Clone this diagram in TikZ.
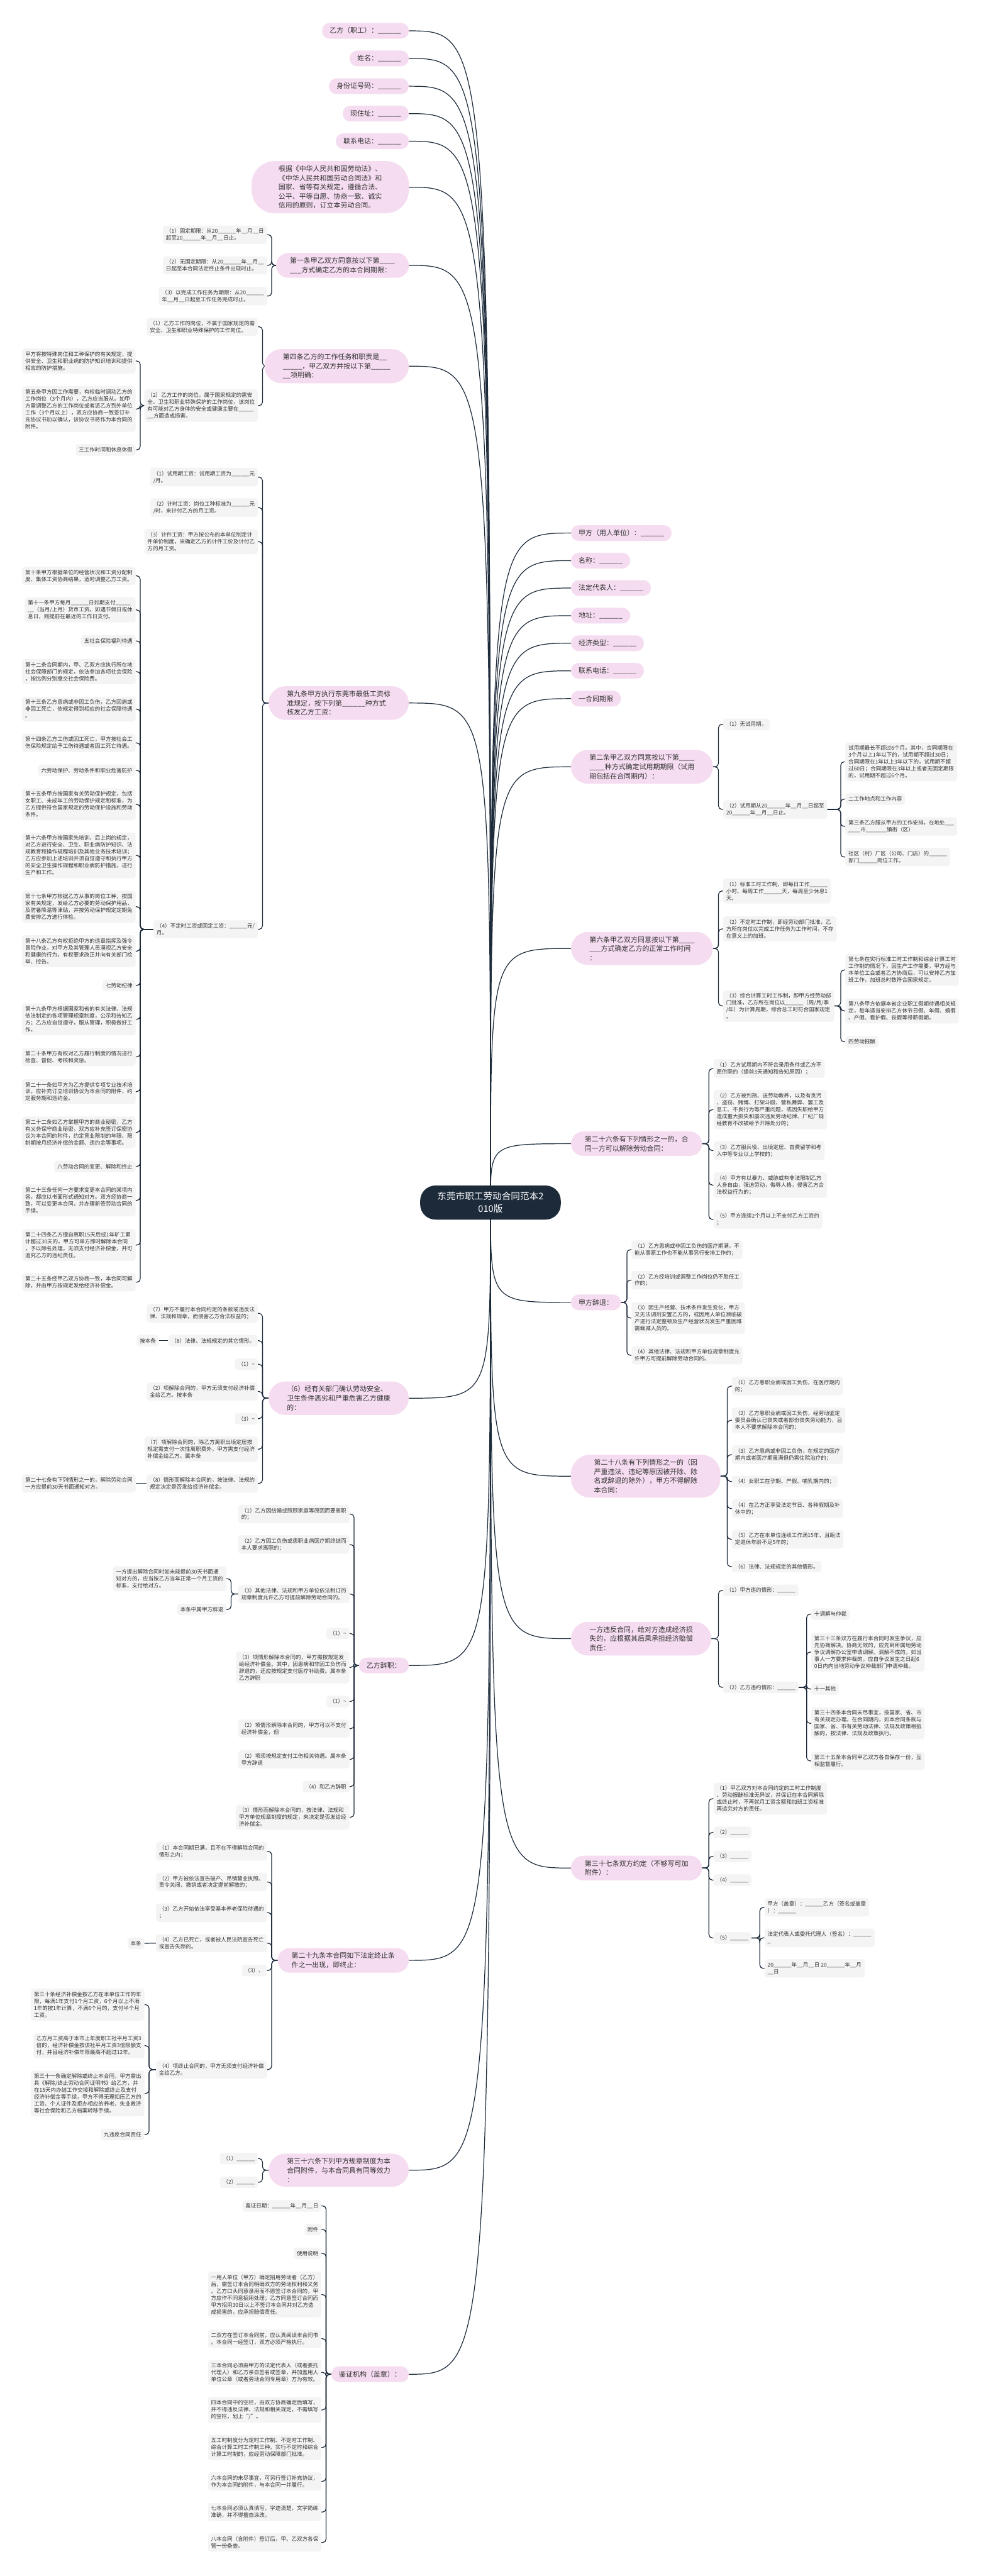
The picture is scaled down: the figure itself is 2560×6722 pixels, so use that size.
\documentclass[tikz,border=0pt]{standalone}
\usepackage{fontspec}
\setmainfont{Noto Sans CJK SC}
\usetikzlibrary{backgrounds}
\definecolor{pinkfill}{HTML}{F5DCF0}
\definecolor{leaffill}{HTML}{F4F4F4}
\definecolor{navy}{HTML}{1C2A3A}
\definecolor{ink}{HTML}{333333}
\begin{document}
\catcode`\_=12
\begin{tikzpicture}[x=1pt,y=-1pt,
  rootbox/.style={fill=navy,text=white,rounded corners=40pt,align=center,
    font=\fontsize{24}{33}\selectfont,minimum width=367pt,minimum height=89pt},
  mainbox/.style={fill=pinkfill,text=ink,align=left,inner ysep=11.5pt,
    font=\fontsize{18}{24}\selectfont},
  mone/.style={mainbox,inner xsep=20pt,rounded corners=20pt,minimum height=41pt},
  mtwo/.style={mainbox,inner xsep=36pt,rounded corners=32pt},
  mthree/.style={mainbox,inner xsep=48pt,rounded corners=44pt},
  mfour/.style={mainbox,inner xsep=60pt,rounded corners=50pt},
  mfive/.style={mainbox,inner xsep=70pt,rounded corners=60pt},
  leaf/.style={fill=leaffill,text=ink,align=left,rounded corners=7pt,
    inner xsep=8pt,inner ysep=8pt,minimum height=30pt,
    font=\fontsize{14}{18}\selectfont},
  trunk/.style={draw=navy,line width=2pt},
  twig/.style={draw=navy,line width=2pt,rounded corners=9pt}]

\begin{pgfonlayer}{background}
\fill[white] (0,0) rectangle (2560,6722);
\end{pgfonlayer}
\useasboundingbox (0,0) rectangle (2560,6722);

\node[rootbox] (root) at (1280,3138) {东莞市职工劳动合同范本2\\010版};

\node[mone, anchor=east] (l1) at (1067,80.5) {乙方（职工）：______};
\node[mone, anchor=east] (l2) at (1067,152.5) {姓名：______};
\node[mone, anchor=east] (l3) at (1067,225) {身份证号码：______};
\node[mone, anchor=east] (l4) at (1067,296.5) {现住址：______};
\node[mone, anchor=east] (l5) at (1067,368.5) {联系电话：______};
\node[mfive, anchor=east] (l6) at (1067,488.5) {根据《中华人民共和国劳动法》、\\《中华人民共和国劳动合同法》和\\国家、省等有关规定，遵循合法、\\公平、平等自愿、协商一致、诚实\\信用的原则，订立本劳动合同。};
\node[mtwo, anchor=east] (l7) at (1067,692.5) {第一条甲乙双方同意按以下第____\\___方式确定乙方的本合同期限：};
\node[mthree, anchor=east] (l8) at (1067,955.5) {第四条乙方的工作任务和职责是__\\_____，甲乙双方并按以下第_____\\__项明确：};
\node[mthree, anchor=east] (l9) at (1067,1834.5) {第九条甲方执行东莞市最低工资标\\准规定，按下列第______种方式\\核发乙方工资：};
\node[mthree, anchor=east] (l10) at (1067,3648.5) {（6）经有关部门确认劳动安全、\\卫生条件恶劣和严重危害乙方健康\\的：};
\node[mone, anchor=east] (l11) at (1067,4346) {乙方辞职：};
\node[mtwo, anchor=east] (l12) at (1067,5115.5) {第二十九条本合同如下法定终止条\\件之一出现，即终止：};
\node[mthree, anchor=east] (l13) at (1067,5663) {第三十六条下列甲方规章制度为本\\合同附件，与本合同具有同等效力\\：};
\node[mone, anchor=east] (l14) at (1067,6195.5) {鉴证机构（盖章）：};

\node[leaf, anchor=east] (l7a) at (697,612.5) {（1）固定期限：从20______年__月__日\\起至20______年__月__日止。};
\node[leaf, anchor=east] (l7b) at (697,692.5) {（2）无固定期限：从20______年__月__\\日起至本合同法定终止条件出现时止。};
\node[leaf, anchor=east] (l7c) at (697,772.5) {（3）以完成工作任务为期限：从20______\\年__月__日起至工作任务完成时止。};

\node[leaf, anchor=east] (l8a) at (673,852.5) {（1）乙方工作的岗位，不属于国家规定的需\\安全、卫生和职业特殊保护的工作岗位。};
\node[leaf, anchor=east] (l8b) at (673,1058.5) {（2）乙方工作的岗位，属于国家规定的需安\\全、卫生和职业特殊保护的工作岗位，该岗位\\有可能对乙方身体的安全或健康主要在_____\\__方面造成损害。};
\node[leaf, anchor=east] (l8ba) at (354,942) {甲方将按特殊岗位和工种保护的有关规定，提\\供安全、卫生和职业病的防护知识培训和提供\\相应的防护措施。};
\node[leaf, anchor=east] (l8bb) at (354,1067.5) {第五条甲方因工作需要，有权临时调动乙方的\\工作岗位（3个月内），乙方应当服从。如甲\\方需调整乙方的工作岗位或者派乙方到外单位\\工作（3个月以上），双方应协商一致签订补\\充协议书加以确认，该协议书将作为本合同的\\附件。};
\node[leaf, anchor=east] (l8bc) at (354,1174) {三工作时间和休息休假};

\node[leaf, anchor=east] (l9a) at (673,1245) {（1）试用期工资：试用期工资为______元\\/月。};
\node[leaf, anchor=east] (l9b) at (673,1324.5) {（2）计时工资：岗位工种标准为______元\\/时，来计付乙方的月工资。};
\node[leaf, anchor=east] (l9c) at (673,1413.5) {（3）计件工资：甲方按公布的本单位制定计\\件单价制度，来确定乙方的计件工价及计付乙\\方的月工资。};
\node[leaf, anchor=east] (l9d) at (673,2425) {（4）不定时工资或固定工资：______元/\\月。};

\node[leaf, anchor=east] (l9d1) at (354,1502.5) {第十条甲方根据单位的经营状况和工资分配制\\度、集体工资协商结果，适时调整乙方工资。};
\node[leaf, anchor=east] (l9d2) at (354,1591.5) {第十一条甲方每月______日如期支付_____\\__（当月/上月）货币工资。如遇节假日或休\\息日，则提前在最近的工作日支付。};
\node[leaf, anchor=east] (l9d3) at (354,1672.5) {五社会保险福利待遇};
\node[leaf, anchor=east] (l9d4) at (354,1752.5) {第十二条合同期内，甲、乙双方应执行所在地\\社会保障部门的规定，依法参加各项社会保险\\，按比例分别缴交社会保险费。};
\node[leaf, anchor=east] (l9d5) at (354,1850.5) {第十三条乙方患病或非因工负伤，乙方因病或\\非因工死亡，依规定得到相应的社会保障待遇\\。};
\node[leaf, anchor=east] (l9d6) at (354,1938.5) {第十四条乙方工伤或因工死亡，甲方按社会工\\伤保险规定给予工伤待遇或者因工死亡待遇。};
\node[leaf, anchor=east] (l9d7) at (354,2010) {六劳动保护、劳动条件和职业危害防护};
\node[leaf, anchor=east] (l9d8) at (354,2099) {第十五条甲方按国家有关劳动保护规定，包括\\女职工、未成年工的劳动保护规定和标准，为\\乙方提供符合国家规定的劳动保护设施和劳动\\条件。};
\node[leaf, anchor=east] (l9d9) at (354,2232) {第十六条甲方按国家先培训、后上岗的规定，\\对乙方进行安全、卫生、职业病防护知识、法\\规教育和操作规程培训及其他业务技术培训；\\乙方应参加上述培训并须自觉遵守和执行甲方\\的安全卫生操作规程和职业病防护措施，进行\\生产和工作。};
\node[leaf, anchor=east] (l9d10) at (354,2366) {第十七条甲方根据乙方从事的岗位工种，按国\\家有关规定，发给乙方必要的劳动保护用品，\\及防暑降温等津贴，并按劳动保护规定定期免\\费安排乙方进行体检。};
\node[leaf, anchor=east] (l9d11) at (354,2482) {第十八条乙方有权拒绝甲方的违章指挥及强令\\冒险作业，对甲方及其管理人员漠视乙方安全\\和健康的行为，有权要求改正并向有关部门检\\举、控告。};
\node[leaf, anchor=east] (l9d12) at (354,2571.5) {七劳动纪律};
\node[leaf, anchor=east] (l9d13) at (354,2660) {第十九条甲方根据国家和省的有关法律、法规\\依法制定的各项管理规章制度，公示和告知乙\\方；乙方应自觉遵守，服从管理，积极做好工\\作。};
\node[leaf, anchor=east] (l9d14) at (354,2758) {第二十条甲方有权对乙方履行制度的情况进行\\检查、督促、考核和奖惩。};
\node[leaf, anchor=east] (l9d15) at (354,2848.5) {第二十一条如甲方为乙方提供专项专业技术培\\训，应补充订立培训协议为本合同的附件，约\\定服务期和违约金。};
\node[leaf, anchor=east] (l9d16) at (354,2955) {第二十二条如乙方掌握甲方的商业秘密，乙方\\有义务保守商业秘密，双方应补充签订保密协\\议为本合同的附件，约定竞业限制的年限、限\\制期按月经济补偿的金额、违约金等事项。};
\node[leaf, anchor=east] (l9d17) at (354,3044) {八劳动合同的变更、解除和终止};
\node[leaf, anchor=east] (l9d18) at (354,3132.5) {第二十三条任何一方要求变更本合同的某项内\\容，都应以书面形式通知对方。双方经协商一\\致，可以变更本合同，并办理新签劳动合同的\\手续。};
\node[leaf, anchor=east] (l9d19) at (354,3249) {第二十四条乙方擅自离职15天后或1年旷工累\\计超过30天的，甲方可单方即时解除本合同\\，予以除名处理，无须支付经济补偿金，并可\\追究乙方的违纪责任。};
\node[leaf, anchor=east] (l9d20) at (354,3346) {第二十五条经甲乙双方协商一致，本合同可解\\除，并由甲方按规定发给经济补偿金。};

\node[leaf, anchor=east] (l10a) at (673,3427) {（7）甲方不履行本合同约定的条款或违反法\\律、法规和规章，而侵害乙方合法权益的；};
\node[leaf, anchor=east] (l10b) at (673,3498.5) {（8）法律、法规规定的其它情形。};
\node[leaf, anchor=east] (l10c) at (673,3560) {（1）\textasciitilde};
\node[leaf, anchor=east] (l10d) at (673,3631) {（2）项解除合同的，甲方无须支付经济补偿\\金给乙方。按本条};
\node[leaf, anchor=east] (l10e) at (673,3702) {（3）\textasciitilde};
\node[leaf, anchor=east] (l10f) at (673,3781.5) {（7）项解除合同的，除乙方离职出境定居按\\规定需支付一次性离职费外，甲方需支付经济\\补偿金给乙方。属本条};
\node[leaf, anchor=east] (l10g) at (673,3871) {（8）情形而解除本合同的，按法律、法规的\\规定决定是否发给经济补偿金。};
\node[leaf, anchor=east] (l10b1) at (415,3498.5) {按本条};
\node[leaf, anchor=east] (l10g1) at (354,3871) {第二十七条有下列情形之一的，解除劳动合同\\一方应提前30天书面通知对方。};

\node[leaf, anchor=east] (l11a) at (912,3951) {（1）乙方因结婚或照顾家庭等原因而要离职\\的；};
\node[leaf, anchor=east] (l11b) at (912,4030.5) {（2）乙方因工负伤或患职业病医疗期终结而\\本人要求离职的；};
\node[leaf, anchor=east] (l11c) at (912,4159.5) {（3）其他法律、法规和甲方单位依法制订的\\规章制度允许乙方可提前解除劳动合同的。};
\node[leaf, anchor=east] (l11d) at (912,4262.5) {（1）\textasciitilde};
\node[leaf, anchor=east] (l11e) at (912,4351) {（3）项情形解除本合同的，甲方需按规定发\\给经济补偿金。其中，因患病和非因工负伤而\\辞退的，还应按规定支付医疗补助费。属本条\\乙方辞职};
\node[leaf, anchor=east] (l11f) at (912,4440) {（1）\textasciitilde};
\node[leaf, anchor=east] (l11g) at (912,4511) {（2）项情形解除本合同的，甲方可以不支付\\经济补偿金，但};
\node[leaf, anchor=east] (l11h) at (912,4591) {（2）项须按规定支付工伤相关待遇。属本条\\甲方辞退};
\node[leaf, anchor=east] (l11i) at (912,4662) {（4）和乙方辞职};
\node[leaf, anchor=east] (l11j) at (912,4742) {（3）情形而解除本合同的，按法律、法规和\\甲方单位规章制度的规定，来决定是否发给经\\济补偿金。};
\node[leaf, anchor=east] (l11c1) at (591,4119.5) {一方提出解除合同时如未能提前30天书面通\\知对方的，应当按乙方当年正常一个月工资的\\标准，支付给对方。};
\node[leaf, anchor=east] (l11c2) at (591,4200) {本条中属甲方辞退};

\node[leaf, anchor=east] (l12a) at (697,4831) {（1）本合同期已满，且不在不得解除合同的\\情形之内；};
\node[leaf, anchor=east] (l12b) at (697,4911) {（2）甲方被依法宣告破产、吊销营业执照、\\责令关闭、撤销或者决定提前解散的；};
\node[leaf, anchor=east] (l12c) at (697,4991) {（3）乙方开始依法享受基本养老保险待遇的\\；};
\node[leaf, anchor=east] (l12d) at (697,5070.5) {（4）乙方已死亡，或者被人民法院宣告死亡\\或宣告失踪的。};
\node[leaf, anchor=east] (l12e) at (697,5142) {（3）、};
\node[leaf, anchor=east] (l12f) at (697,5400.5) {（4）项终止合同的，甲方无须支付经济补偿\\金给乙方。};
\node[leaf, anchor=east] (l12d1) at (377,5071) {本条};
\node[leaf, anchor=east] (l12f1) at (377,5231) {第三十条经济补偿金按乙方在本单位工作的年\\限，每满1年支付1个月工资，6个月以上不满\\1年的按1年计算，不满6个月的，支付半个月\\工资。};
\node[leaf, anchor=east] (l12f2) at (377,5338) {乙方月工资高于本市上年度职工社平月工资3\\倍的，经济补偿金按该社平月工资3倍限额支\\付，并且经济补偿年限最高不超过12年。};
\node[leaf, anchor=east] (l12f3) at (377,5463) {第三十一条确定解除或终止本合同，甲方需出\\具《解除/终止劳动合同证明书》给乙方，并\\在15天内办结工作交接和解除或终止及支付\\经济补偿金等手续，甲方不得无理扣压乙方的\\工资、个人证件及拒办相应的养老、失业救济\\等社会保险和乙方档案转移手续。};
\node[leaf, anchor=east] (l12f4) at (377,5570) {九违反合同责任};

\node[leaf, anchor=east] (l13a) at (673,5632.5) {（1）______};
\node[leaf, anchor=east] (l13b) at (673,5694.5) {（2）______};

\node[leaf, anchor=east] (l14a) at (839,5756) {鉴证日期：______年__月__日};
\node[leaf, anchor=east] (l14b) at (839,5817.5) {附件};
\node[leaf, anchor=east] (l14c) at (839,5880) {使用说明};
\node[leaf, anchor=east] (l14d) at (839,5987.5) {一用人单位（甲方）确定招用劳动者（乙方）\\后，需签订本合同明确双方的劳动权利和义务\\。乙方口头同意录用而不愿签订本合同的，甲\\方应作不同意招用处理；乙方同意签订合同而\\甲方招用30日以上不签订本合同并对乙方造\\成损害的，应承担赔偿责任。};
\node[leaf, anchor=east] (l14e) at (839,6102.5) {二双方在签订本合同前，应认真阅读本合同书\\。本合同一经签订，双方必须严格执行。};
\node[leaf, anchor=east] (l14f) at (839,6190.5) {三本合同必须由甲方的法定代表人（或者委托\\代理人）和乙方亲自签名或签章，并加盖用人\\单位公章（或者劳动合同专用章）方为有效。};
\node[leaf, anchor=east] (l14g) at (839,6288.5) {四本合同中的空栏，由双方协商确定后填写，\\并不得违反法律、法规和相关规定。不需填写\\的空栏，划上“/”。};
\node[leaf, anchor=east] (l14h) at (839,6386.5) {五工时制度分为定时工作制、不定时工作制、\\综合计算工时工作制三种。实行不定时和综合\\计算工时制的，应经劳动保障部门批准。};
\node[leaf, anchor=east] (l14i) at (839,6475) {六本合同的未尽事宜，可另行签订补充协议，\\作为本合同的附件，与本合同一并履行。};
\node[leaf, anchor=east] (l14j) at (839,6555) {七本合同必须认真填写，字迹清楚，文字简练\\准确，并不得擅自涂改。};
\node[leaf, anchor=east] (l14k) at (839,6634.5) {八本合同（含附件）签订后，甲、乙双方各保\\管一份备查。};

\node[mone, anchor=west] (r1) at (1490,1391) {甲方（用人单位）：______};
\node[mone, anchor=west] (r2) at (1490,1463) {名称：______};
\node[mone, anchor=west] (r3) at (1490,1534.5) {法定代表人：______};
\node[mone, anchor=west] (r4) at (1490,1606.5) {地址：______};
\node[mone, anchor=west] (r5) at (1490,1678.5) {经济类型：______};
\node[mone, anchor=west] (r6) at (1490,1750.5) {联系电话：______};
\node[mone, anchor=west] (r7) at (1490,1823) {一合同期限};
\node[mthree, anchor=west] (r8) at (1490,2001) {第二条甲乙双方同意按以下第____\\____种方式确定试用期期限（试用\\期包括在合同期内）：};
\node[mthree, anchor=west] (r9) at (1490,2475) {第六条甲乙双方同意按以下第____\\___方式确定乙方的正常工作时间\\：};
\node[mtwo, anchor=west] (r10) at (1490,2984.5) {第二十六条有下列情形之一的，合\\同一方可以解除劳动合同：};
\node[mone, anchor=west] (r11) at (1490,3398.5) {甲方辞退：};
\node[mfour, anchor=west] (r12) at (1490,3852) {第二十八条有下列情形之一的（因\\严重违法、违纪等原因被开除、除\\名或辞退的除外），甲方不得解除\\本合同：};
\node[mthree, anchor=west] (r13) at (1490,4276) {一方违反合同，给对方造成经济损\\失的，应根据其后果承担经济赔偿\\责任：};
\node[mtwo, anchor=west] (r14) at (1490,4874.5) {第三十七条双方约定（不够写可加\\附件）：};

\node[leaf, anchor=west] (r8a) at (1887,1890) {（1）无试用期。};
\node[leaf, anchor=west] (r8b) at (1887,2112) {（2）试用期从20______年__月__日起至\\20______年__月__日止。};
\node[leaf, anchor=west] (r8b1) at (2206,1988) {试用期最长不超过6个月。其中，合同期限在\\3个月以上1年以下的，试用期不超过30日；\\合同期限在1年以上3年以下的，试用期不超\\过60日；合同期限在3年以上或者无固定期限\\的，试用期不超过6个月。};
\node[leaf, anchor=west] (r8b2) at (2206,2085) {二工作地点和工作内容};
\node[leaf, anchor=west] (r8b3) at (2206,2156.5) {第三条乙方服从甲方的工作安排，在地处___\\____市_______镇街（区）};
\node[leaf, anchor=west] (r8b4) at (2206,2236.5) {社区（村）厂区（公司、门店）的______\\部门______岗位工作。};

\node[leaf, anchor=west] (r9a) at (1887,2325) {（1）标准工时工作制，即每日工作______\\小时、每周工作______天，每周至少休息1\\天。};
\node[leaf, anchor=west] (r9b) at (1887,2424) {（2）不定时工作制，即经劳动部门批准，乙\\方所在岗位以完成工作任务为工作时间，不存\\在意义上的加班。};
\node[leaf, anchor=west] (r9c) at (1887,2625) {（3）综合计算工时工作制，即甲方经劳动部\\门批准，乙方所在岗位以______（周/月/季\\/年）为计算周期，综合总工时符合国家规定\\。};
\node[leaf, anchor=west] (r9c1) at (2206,2531) {第七条在实行标准工时工作制和综合计算工时\\工作制的情况下，因生产工作需要，甲方经与\\本单位工会或者乙方协商后，可以安排乙方加\\班工作，加班总时数符合国家规定。};
\node[leaf, anchor=west] (r9c2) at (2206,2638) {第八条甲方依据本省企业职工假期待遇相关规\\定，每年适当安排乙方休节日假、年假、婚假\\、产假、看护假、丧假等带薪假期。};
\node[leaf, anchor=west] (r9c3) at (2206,2718.5) {四劳动报酬};

\node[leaf, anchor=west] (r10a) at (1862,2788.5) {（1）乙方试用期内不符合录用条件或乙方不\\愿供职的（提前3天通知和告知原因）；};
\node[leaf, anchor=west] (r10b) at (1862,2895.5) {（2）乙方被判刑、送劳动教养，以及有贪污\\、盗窃、赌博、打架斗殴、营私舞弊、罢工及\\怠工、不良行为等严重问题，或因失职给甲方\\造成重大损失和屡次违反劳动纪律、厂纪厂规\\经教育不改被给予开除处分的；};
\node[leaf, anchor=west] (r10c) at (1862,3002.5) {（3）乙方服兵役、出境定居、自费留学和考\\入中等专业以上学校的；};
\node[leaf, anchor=west] (r10d) at (1862,3092.5) {（4）甲方有以暴力、威胁或有非法限制乙方\\人身自由，强迫劳动，侮辱人格，侵害乙方合\\法权益行为的；};
\node[leaf, anchor=west] (r10e) at (1862,3182) {（5）甲方连续2个月以上不支付乙方工资的\\；};

\node[leaf, anchor=west] (r11a) at (1648,3261) {（1）乙方患病或非因工负伤的医疗期满，不\\能从事原工作也不能从事另行安排工作的；};
\node[leaf, anchor=west] (r11b) at (1648,3340.5) {（2）乙方经培训或调整工作岗位仍不胜任工\\作的；};
\node[leaf, anchor=west] (r11c) at (1648,3439.5) {（3）因生产经营、技术条件发生变化，甲方\\又无法调剂安置乙方的，或因用人单位濒临破\\产进行法定整顿及生产经营状况发生严重困难\\需裁减人员的。};
\node[leaf, anchor=west] (r11d) at (1648,3536.5) {（4）其他法律、法规和甲方单位规章制度允\\许甲方可提前解除劳动合同的。};

\node[leaf, anchor=west] (r12a) at (1910,3617) {（1）乙方患职业病或因工负伤，在医疗期内\\的；};
\node[leaf, anchor=west] (r12b) at (1910,3706) {（2）乙方患职业病或因工负伤，经劳动鉴定\\委员会确认已丧失或者部份丧失劳动能力，且\\本人不要求解除本合同的；};
\node[leaf, anchor=west] (r12c) at (1910,3796) {（3）乙方患病或非因工负伤，在规定的医疗\\期内或者医疗期虽满但仍需住院治疗的；};
\node[leaf, anchor=west] (r12d) at (1910,3866) {（4）女职工在孕期、产假、哺乳期内的；};
\node[leaf, anchor=west] (r12e) at (1910,3936.5) {（4）在乙方正享受法定节日、各种假期及补\\休中的；};
\node[leaf, anchor=west] (r12f) at (1910,4016.5) {（5）乙方在本单位连续工作满15年，且距法\\定退休年龄不足5年的；};
\node[leaf, anchor=west] (r12g) at (1910,4088) {（6）法律、法规规定的其他情形。};

\node[leaf, anchor=west] (r13a) at (1887,4150) {（1）甲方违约情形：______};
\node[leaf, anchor=west] (r13b) at (1887,4403) {（2）乙方违约情形：______};
\node[leaf, anchor=west] (r13b1) at (2117,4212) {十调解与仲裁};
\node[leaf, anchor=west] (r13b2) at (2117,4311) {第三十三条双方在履行本合同时发生争议，应\\先协商解决。协商无效的，应先到所属地劳动\\争议调解办公室申请调解。调解不成的，如当\\事人一方要求仲裁的，应自争议发生之日起6\\0日内向当地劳动争议仲裁部门申请仲裁。};
\node[leaf, anchor=west] (r13b3) at (2117,4407.5) {十一其他};
\node[leaf, anchor=west] (r13b4) at (2117,4497) {第三十四条本合同未尽事宜，按国家、省、市\\有关规定办理。在合同期内，如本合同条款与\\国家、省、市有关劳动法律、法规及政策相抵\\触的，按法律、法规及政策执行。};
\node[leaf, anchor=west] (r13b5) at (2117,4595) {第三十五条本合同甲乙双方各自保存一份，互\\相监督履行。};

\node[leaf, anchor=west] (r14a) at (1862,4693.5) {（1）甲乙双方对本合同约定的工时工作制度\\、劳动报酬标准无异议，并保证在本合同解除\\或终止时，不再就月工资金额和加班工资标准\\再追究对方的责任。};
\node[leaf, anchor=west] (r14b) at (1862,4781.5) {（2）______};
\node[leaf, anchor=west] (r14c) at (1862,4844) {（3）______};
\node[leaf, anchor=west] (r14d) at (1862,4906) {（4）______};
\node[leaf, anchor=west] (r14e) at (1862,5057) {（5）______};
\node[leaf, anchor=west] (r14e1) at (1995,4977) {甲方（盖章）：______乙方（签名或盖章\\）：______};
\node[leaf, anchor=west] (r14e2) at (1995,5056.5) {法定代表人或委托代理人（签名）：______\\_};
\node[leaf, anchor=west] (r14e3) at (1995,5136.5) {20______年__月__日 20______年__月\\__日};

\begin{pgfonlayer}{background}
\foreach \i in {1,...,14} {
  \draw[trunk] (root.center) .. controls (root.center |- l\i.east) .. (l\i.east);
  \draw[trunk] (root.center) .. controls (root.center |- r\i.west) .. (r\i.west);
}
\foreach \kid in {a,b,c} \draw[twig] (l7.west) -| ([xshift=12pt]l7\kid.east) -- (l7\kid.east);
\foreach \kid in {a,b} \draw[twig] (l8.west) -| ([xshift=12pt]l8\kid.east) -- (l8\kid.east);
\foreach \kid in {a,b,c} \draw[twig] (l8b.west) -| ([xshift=12pt]l8b\kid.east) -- (l8b\kid.east);
\foreach \kid in {a,b,c,d} \draw[twig] (l9.west) -| ([xshift=12pt]l9\kid.east) -- (l9\kid.east);
\foreach \i in {1,...,20} \draw[twig] (l9d.west) -| ([xshift=12pt]l9d\i.east) -- (l9d\i.east);
\foreach \kid in {a,...,g} \draw[twig] (l10.west) -| ([xshift=12pt]l10\kid.east) -- (l10\kid.east);
\draw[twig] (l10b.west) -- (l10b1.east);
\draw[twig] (l10g.west) -- (l10g1.east);
\foreach \kid in {a,...,j} \draw[twig] (l11.west) -| ([xshift=12pt]l11\kid.east) -- (l11\kid.east);
\foreach \i in {1,2} \draw[twig] (l11c.west) -| ([xshift=12pt]l11c\i.east) -- (l11c\i.east);
\foreach \kid in {a,...,f} \draw[twig] (l12.west) -| ([xshift=12pt]l12\kid.east) -- (l12\kid.east);
\draw[twig] (l12d.west) -- (l12d1.east);
\foreach \i in {1,...,4} \draw[twig] (l12f.west) -| ([xshift=12pt]l12f\i.east) -- (l12f\i.east);
\foreach \kid in {a,b} \draw[twig] (l13.west) -| ([xshift=12pt]l13\kid.east) -- (l13\kid.east);
\foreach \kid in {a,...,k} \draw[twig] (l14.west) -| ([xshift=12pt]l14\kid.east) -- (l14\kid.east);

\foreach \kid in {a,b} \draw[twig] (r8.east) -| ([xshift=-12pt]r8\kid.west) -- (r8\kid.west);
\foreach \i in {1,...,4} \draw[twig] (r8b.east) -| ([xshift=-12pt]r8b\i.west) -- (r8b\i.west);
\foreach \kid in {a,b,c} \draw[twig] (r9.east) -| ([xshift=-12pt]r9\kid.west) -- (r9\kid.west);
\foreach \i in {1,2,3} \draw[twig] (r9c.east) -| ([xshift=-12pt]r9c\i.west) -- (r9c\i.west);
\foreach \kid in {a,...,e} \draw[twig] (r10.east) -| ([xshift=-12pt]r10\kid.west) -- (r10\kid.west);
\foreach \kid in {a,...,d} \draw[twig] (r11.east) -| ([xshift=-12pt]r11\kid.west) -- (r11\kid.west);
\foreach \kid in {a,...,g} \draw[twig] (r12.east) -| ([xshift=-12pt]r12\kid.west) -- (r12\kid.west);
\foreach \kid in {a,b} \draw[twig] (r13.east) -| ([xshift=-12pt]r13\kid.west) -- (r13\kid.west);
\foreach \i in {1,...,5} \draw[twig] (r13b.east) -| ([xshift=-12pt]r13b\i.west) -- (r13b\i.west);
\foreach \kid in {a,...,e} \draw[twig] (r14.east) -| ([xshift=-12pt]r14\kid.west) -- (r14\kid.west);
\foreach \i in {1,2,3} \draw[twig] (r14e.east) -| ([xshift=-12pt]r14e\i.west) -- (r14e\i.west);
\end{pgfonlayer}
\end{tikzpicture}
\end{document}
